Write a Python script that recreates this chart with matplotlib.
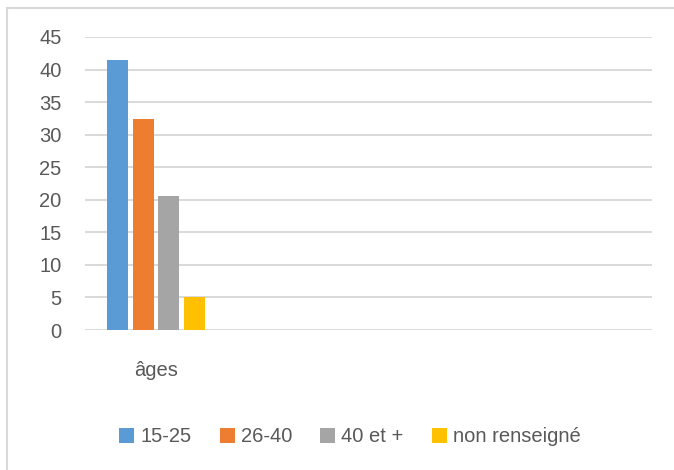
import matplotlib
matplotlib.use("Agg")
import matplotlib.pyplot as plt
from matplotlib.patches import Rectangle
import numpy as np

categories = ["âges"]
series_names = ["15-25", "26-40", "40 et +", "non renseigné"]
series_values = [41.5, 32.4, 20.6, 5.1]
colors = ["#5B9BD5", "#ED7D31", "#A5A5A5", "#FFC000"]
yticks = [0, 5, 10, 15, 20, 25, 30, 35, 40, 45]

plt.rcParams['font.family'] = ['Liberation Sans', 'DejaVu Sans']
text_color = "#595959"

fig = plt.figure(figsize=(6.74, 4.70), dpi=100)
ax = fig.add_axes([85/674, 1-330/470, (652-85)/674, (330-37)/470])

n = len(series_names)
bar_w = 0.148
pitch = 0.18
x0 = np.arange(len(categories))
for i, (name, val, c) in enumerate(zip(series_names, series_values, colors)):
    off = (i - (n-1)/2) * pitch
    ax.bar(x0 + off, [val], width=bar_w, color=c, label=name, zorder=3)

ax.set_xlim(-0.5, 3.5)
ax.set_ylim(0, 45)
ax.set_yticks(yticks)
ax.set_xticks(x0)
ax.set_xticklabels(categories)
ax.grid(axis='y', color='#d9d9d9', linewidth=1.4, zorder=0)
for s in ['top', 'right', 'left', 'bottom']:
    ax.spines[s].set_visible(False)
ax.tick_params(axis='both', length=0, labelsize=14.5, labelcolor=text_color)
ax.tick_params(axis='y', pad=17)
ax.tick_params(axis='x', pad=22)

fig.legend(loc='center', bbox_to_anchor=(350/674, 1-437/470), ncol=4, frameon=False,
           fontsize=14.5, labelcolor=text_color, handlelength=0.75, handleheight=0.75,
           handletextpad=0.3, columnspacing=1.4)

border = Rectangle((7/674, -0.1), 1.2, 1-8/470+0.1, transform=fig.transFigure,
                   fill=False, edgecolor='#d9d9d9', linewidth=1.5)
fig.patches.append(border)

fig.savefig("out.png", dpi=100)
